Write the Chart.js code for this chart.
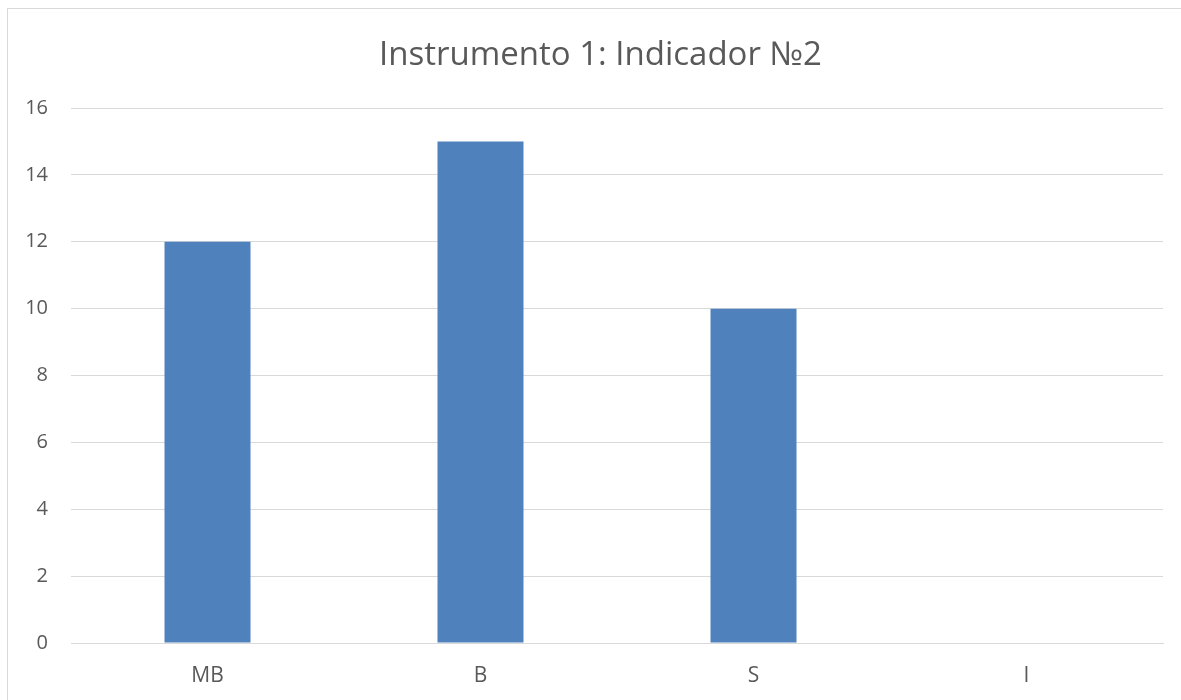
<!DOCTYPE html>
<html>
<head>
<meta charset="utf-8">
<script src="https://cdn.jsdelivr.net/npm/chart.js@4"></script>
<style>
  body { margin: 0; background: #fff; }
  #wrap { position: relative; width: 1181px; height: 700px; overflow: hidden; }
  #frame { position: absolute; left: 7px; top: 8px; width: 1300px; height: 800px; border: 1px solid #d9d9d9; }
  #c { position: absolute; left: 0; top: 0; }
</style>
</head>
<body>
<div id="wrap">
  <div id="frame"></div>
  <canvas id="c" width="1181" height="700"></canvas>
</div>
<script>
// datos del gráfico
const categorias = ['MB', 'B', 'S', 'I'];
const valores = [12, 15, 10, 0];
const titulo = 'Instrumento 1: Indicador №2';

const gris = '#d9d9d9';
const texto = '#595959';

const ctx = document.getElementById('c').getContext('2d');
new Chart(ctx, {
    type: 'bar',
    data: {
        labels: categorias,
        datasets: [{
            label: 'Serie 1',
            data: valores,
            backgroundColor: '#4f81bd',
            borderWidth: 0,
            categoryPercentage: 1,
            barPercentage: 0.315
        }]
    },
    options: {
        responsive: false,
        animation: false,
        layout: { padding: { left: 22, right: 2, top: 0, bottom: 0 } },
        plugins: {
            legend: { display: false },
            tooltip: { enabled: false },
            title: {
                display: true,
                text: titulo,
                color: texto,
                font: { family: 'Open Sans', size: 33, weight: 'normal' },
                padding: { top: 36, bottom: 32.4 }
            }
        },
        scales: {
            x: {
                grid: { display: false, drawTicks: false },
                border: { color: gris, width: 1 },
                ticks: { color: texto, font: { family: 'Open Sans', size: 21 }, padding: 20 },
                afterFit: (s) => { s.height = 57; }
            },
            y: {
                min: 0,
                max: 16,
                grid: { color: gris, lineWidth: 1, drawTicks: false },
                border: { display: false },
                ticks: { stepSize: 2, color: texto, font: { family: 'Open Sans', size: 20 }, padding: 23 },
                afterFit: (s) => { s.width = 49; }
            },
            // eje vacío a la derecha, solo deja el margen derecho del área de trazado
            y2: {
                position: 'right',
                min: 0,
                max: 16,
                grid: { display: false, drawTicks: false },
                border: { display: false },
                ticks: { display: false },
                afterFit: (s) => { s.width = 16; }
            }
        }
    }
});
</script>
</body>
</html>
